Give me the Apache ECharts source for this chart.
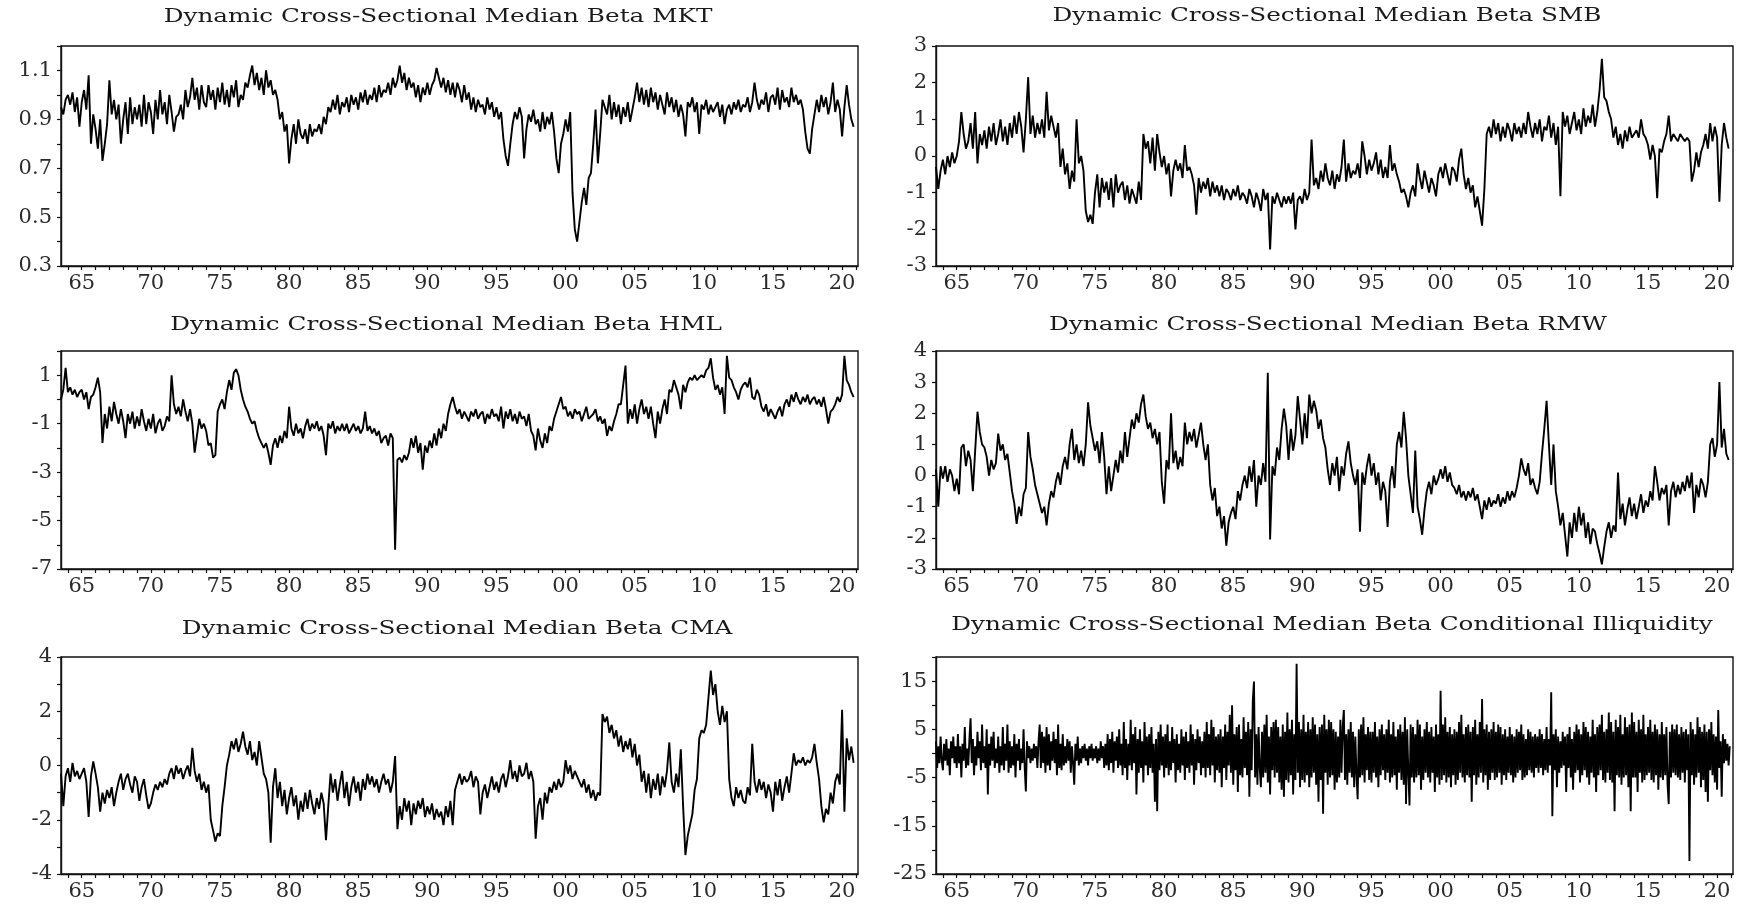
<!DOCTYPE html>
<html><head><meta charset="utf-8">
<script src="https://cdn.jsdelivr.net/npm/echarts@6/dist/echarts.min.js"></script>
<style>html,body{margin:0;padding:0;background:#fff}#c{width:1744px;height:904px}</style>
</head><body><div id="c"></div>
<script>
// first observation: July 1963
const START = 1963.5;
const xLabelYears = [1965,1970,1975,1980,1985,1990,1995,2000,2005,2010,2015,2020];
const xTickYears = [1964,1965,1966,1967,1968,1969,1970,1971,1972,1973,1974,1975,1976,1977,1978,1979,1980,1981,1982,1983,1984,1985,1986,1987,1988,1989,1990,1991,1992,1993,1994,1995,1996,1997,1998,1999,2000,2001,2002,2003,2004,2005,2006,2007,2008,2009,2010,2011,2012,2013,2014,2015,2016,2017,2018,2019,2020,2021];

const titles = ['Dynamic Cross-Sectional Median Beta MKT','Dynamic Cross-Sectional Median Beta SMB','Dynamic Cross-Sectional Median Beta HML','Dynamic Cross-Sectional Median Beta RMW','Dynamic Cross-Sectional Median Beta CMA','Dynamic Cross-Sectional Median Beta Conditional Illiquidity'];

const mktLabels = [0.3,0.5,0.7,0.9,1.1];
const mktTicks = [0.3,0.4,0.5,0.6,0.7,0.8,0.9,1.0,1.1,1.2];
const smbLabels = [-3,-2,-1,0,1,2,3];
const smbTicks = [-3,-2,-1,0,1,2,3];
const hmlLabels = [-7,-5,-3,-1,1];
const hmlTicks = [-7,-6,-5,-4,-3,-2,-1,0,1,2];
const rmwLabels = [-3,-2,-1,0,1,2,3,4];
const rmwTicks = [-3,-2,-1,0,1,2,3,4];
const cmaLabels = [-4,-2,0,2,4];
const cmaTicks = [-4,-3,-2,-1,0,1,2,3,4];
const illLabels = [-25,-15,-5,5,15];
const illTicks = [-25,-20,-15,-10,-5,0,5,10,15,20];

// six observations per year (Jul 1963 .. Nov 2020)
const mkt = [
0.95,0.92,0.98,
1.00,0.96,1.01,0.93,0.99,0.87,
0.97,1.02,0.94,1.08,0.80,0.92,
0.86,0.78,0.90,0.73,0.80,0.88,
1.06,0.92,0.98,0.90,0.96,0.80,
0.90,0.97,0.84,0.99,0.88,0.95,
0.90,0.96,0.87,1.00,0.88,0.97,
0.93,0.84,0.98,0.90,1.02,0.92,
0.97,0.88,1.00,0.93,0.85,0.91,
0.92,0.96,0.90,1.02,0.95,0.99,
1.07,0.98,1.03,0.94,1.04,0.97,
0.95,1.04,0.98,1.02,0.94,1.03,
0.97,1.05,0.96,1.02,0.95,1.04,
0.99,1.06,0.95,1.00,0.98,1.05,
1.03,1.08,1.12,1.04,1.09,1.02,
1.07,1.00,1.10,1.03,1.06,1.00,
1.02,0.98,0.90,0.93,0.85,0.88,
0.72,0.82,0.88,0.80,0.90,0.84,
0.82,0.86,0.80,0.88,0.83,0.86,
0.85,0.88,0.84,0.91,0.88,0.95,
0.93,0.98,0.94,1.00,0.92,0.97,
0.95,0.99,0.93,1.00,0.96,0.99,
0.94,1.01,0.97,1.02,0.96,1.00,
0.98,1.03,0.97,1.04,0.99,1.02,
1.01,1.05,1.00,1.07,1.03,1.06,
1.12,1.05,1.09,1.02,1.07,1.03,
1.05,0.99,1.04,0.97,1.03,1.00,
1.05,1.00,1.04,1.06,1.11,1.07,
1.03,1.07,1.01,1.06,1.00,1.05,
0.99,1.05,1.02,0.97,1.04,0.98,
1.01,0.94,0.99,0.93,0.98,0.95,
0.96,0.92,0.99,0.94,0.97,0.91,
0.95,0.90,0.93,0.82,0.75,0.71,
0.80,0.88,0.93,0.90,0.95,0.91,
0.74,0.86,0.92,0.89,0.94,0.88,
0.90,0.85,0.93,0.86,0.91,0.88,
0.93,0.85,0.74,0.68,0.80,0.84,
0.90,0.85,0.93,0.60,0.45,0.40,
0.48,0.56,0.62,0.55,0.66,0.68,
0.80,0.94,0.72,0.84,0.98,0.95,
0.92,1.00,0.90,0.97,0.91,0.96,
0.88,0.95,0.91,0.97,0.89,0.94,
0.99,1.05,0.97,1.03,0.96,1.02,
0.95,1.03,0.97,1.01,0.94,1.00,
0.96,0.92,1.01,0.95,0.99,0.93,
0.98,0.91,0.96,0.92,0.83,0.97,
0.95,0.99,0.93,0.97,0.84,0.96,
0.94,0.98,0.92,0.96,0.93,0.95,
0.97,0.91,0.96,0.88,0.94,0.96,
0.92,0.97,0.94,0.98,0.93,0.96,
0.95,0.99,0.93,0.97,1.05,0.98,
0.94,0.98,0.96,1.01,0.93,0.99,
1.00,0.96,1.03,0.94,1.02,0.97,
0.99,0.95,1.03,0.97,1.00,0.96,
0.98,0.94,0.85,0.78,0.76,0.86,
0.92,0.98,0.93,1.00,0.95,0.99,
0.92,0.97,1.05,0.93,0.98,0.94,
0.83,0.95,1.04,0.96,0.90,0.87];

const smb = [
-0.3,-0.9,-0.4,
-0.1,-0.5,0.0,-0.3,0.1,-0.2,
0.0,0.4,1.2,0.6,0.2,0.4,
0.9,0.2,1.2,-0.2,0.6,0.3,
0.7,0.2,0.8,0.4,0.9,0.3,
0.6,1.0,0.4,0.8,0.3,0.9,
0.5,1.1,0.6,1.2,0.8,0.1,
1.0,2.15,0.6,1.1,0.5,0.9,
0.6,1.0,0.5,1.75,0.7,1.1,
0.8,0.5,0.9,-0.3,0.2,-0.5,
-0.2,-0.9,-0.4,-0.7,1.0,-0.2,
0.0,-0.4,-1.5,-1.8,-1.6,-1.85,
-1.0,-0.5,-1.4,-0.6,-1.0,-0.7,
-1.2,-0.6,-1.4,-0.5,-1.0,-0.8,
-0.7,-1.2,-0.8,-1.3,-0.9,-1.1,
-1.3,-0.7,-1.2,0.6,0.2,0.4,
-0.2,0.5,-0.4,0.6,0.1,-0.3,
0.0,-0.5,-0.2,-1.1,-0.4,-0.1,
-0.4,-0.2,-0.6,0.3,-0.4,-0.3,
-0.5,-0.8,-1.6,-0.6,-1.0,-0.7,
-0.9,-0.6,-1.1,-0.7,-1.0,-0.8,
-1.1,-0.8,-1.2,-0.9,-1.0,-1.2,
-0.9,-1.1,-0.8,-1.2,-1.0,-1.1,
-1.3,-0.9,-1.1,-1.4,-1.0,-1.2,
-1.5,-0.9,-1.2,-1.0,-2.55,-1.1,
-1.3,-1.0,-1.2,-1.4,-1.1,-1.3,
-1.1,-1.3,-1.0,-2.0,-1.2,-1.1,
-1.3,-0.9,-1.2,-1.0,0.45,-0.8,
-0.6,-0.9,-0.4,-0.7,-0.2,-0.6,
-0.8,-0.4,-0.9,-0.5,-0.7,-0.3,
0.45,-0.7,-0.2,-0.6,-0.4,-0.5,
-0.2,-0.6,0.4,0.0,-0.5,-0.1,
-0.4,-0.2,0.1,-0.5,-0.1,-0.6,
-0.3,-0.6,0.3,-0.4,-0.2,-0.5,
-0.7,-1.0,-0.9,-1.1,-1.4,-1.0,
-0.8,-1.1,-0.2,-0.6,-0.9,-0.4,
-0.7,-1.0,-0.6,-0.8,-1.1,-0.5,
-0.3,-0.6,-0.2,-0.5,-0.8,-0.3,
-0.4,-0.7,-0.1,0.2,-0.5,-0.9,
-0.6,-1.0,-0.8,-1.4,-1.1,-1.5,
-1.9,-0.9,0.6,0.8,0.5,1.0,
0.6,0.9,0.4,0.8,0.5,0.9,
0.7,0.4,0.9,0.6,0.8,0.5,
0.9,0.6,1.2,0.8,0.5,0.9,
0.6,1.0,0.4,0.8,0.7,1.1,
0.5,0.9,0.3,0.8,-1.1,1.2,
0.8,1.1,0.6,0.9,1.2,0.7,
1.0,0.6,1.3,0.8,1.1,0.9,
1.4,0.8,1.2,1.8,2.65,1.6,
1.5,1.2,1.0,0.5,0.8,0.3,
0.6,0.2,0.7,0.4,0.8,0.5,
0.6,0.7,0.5,1.0,0.6,0.5,
0.3,-0.1,0.3,0.0,-1.15,0.2,
0.1,0.4,0.6,1.1,0.4,0.6,
0.5,0.4,0.6,0.5,0.4,0.5,
0.4,-0.7,-0.4,0.1,-0.3,0.1,
0.3,0.6,0.2,0.9,0.4,0.8,
0.5,-1.25,0.3,0.9,0.5,0.2];

const hml = [
0.0,0.4,1.3,
0.3,0.5,0.2,0.4,0.1,0.3,
0.4,0.0,0.3,-0.4,0.1,0.2,
0.5,0.9,0.3,-1.8,-0.6,-1.2,
-0.3,-0.9,-0.1,-0.6,-1.0,-0.4,
-0.9,-1.6,-0.6,-1.0,-0.5,-1.2,
-0.7,-1.1,-0.4,-0.9,-1.3,-0.8,
-1.2,-0.6,-1.4,-1.0,-0.8,-1.3,
-1.1,-0.7,-0.9,1.0,-0.2,-0.6,
-0.3,-0.7,0.0,-0.5,-0.9,-0.4,
-1.0,-2.2,-1.5,-0.8,-1.2,-1.0,
-1.3,-1.9,-1.8,-2.4,-2.3,-0.5,
-0.2,0.0,-0.4,0.3,0.8,0.4,
1.1,1.25,1.0,0.4,0.0,-0.3,
-0.5,-0.8,-1.0,-0.9,-1.3,-1.6,
-1.8,-2.0,-1.8,-2.2,-2.7,-1.9,
-1.6,-2.0,-1.5,-1.8,-1.3,-1.6,
-0.3,-1.2,-1.5,-1.0,-1.4,-1.2,
-1.6,-1.1,-0.8,-1.3,-1.0,-1.2,
-0.9,-1.3,-1.1,-1.5,-2.3,-1.0,
-1.2,-0.9,-1.4,-1.1,-1.3,-1.0,
-1.3,-1.0,-1.4,-1.2,-1.0,-1.3,
-1.1,-1.4,-1.2,-0.5,-1.3,-1.1,
-1.4,-1.2,-1.5,-1.3,-1.8,-1.6,
-1.5,-1.9,-1.4,-1.6,-6.2,-2.5,
-2.4,-2.6,-2.3,-2.5,-2.2,-1.6,
-2.0,-1.5,-2.2,-1.8,-2.9,-1.9,
-2.2,-1.7,-2.0,-1.4,-1.9,-1.2,
-1.6,-1.0,-1.3,-0.6,-0.2,0.1,
-0.3,-0.6,-0.4,-0.8,-0.5,-0.7,
-0.9,-0.5,-0.7,-0.4,-0.8,-0.6,
-0.5,-1.0,-0.6,-0.8,-0.4,-0.7,
-0.6,-0.9,-0.3,-1.2,-0.5,-0.8,
-0.4,-0.9,-0.6,-1.0,-0.5,-0.8,
-0.7,-1.1,-0.6,-1.3,-1.5,-2.1,
-1.2,-1.7,-2.0,-1.4,-1.8,-1.1,
-1.3,-0.8,-0.5,-0.2,0.1,-0.4,
-0.3,-0.7,-0.5,-0.8,-0.4,-0.6,
-0.5,-0.9,-0.6,-0.3,-0.8,-0.7,
-0.6,-0.4,-0.9,-0.7,-1.0,-0.8,
-1.5,-1.1,-1.3,-0.9,-0.6,-0.2,
-0.2,0.6,1.4,-1.0,-0.4,-0.8,
-0.2,-1.0,-0.4,0.0,-0.6,-0.3,
-0.8,-0.3,-1.0,-1.6,-0.5,-1.0,
-0.4,0.0,-0.6,0.4,0.3,0.8,
0.5,0.2,-0.4,0.6,0.3,0.7,
0.9,0.8,1.0,0.8,0.9,1.0,
0.9,1.2,1.3,1.7,0.9,0.4,
0.6,0.2,0.5,-0.6,1.8,0.9,
0.8,0.5,0.3,0.0,0.4,0.6,
0.7,0.5,0.9,0.1,0.0,0.4,
0.2,-0.3,-0.5,-0.2,-0.7,-0.4,
-0.6,-0.8,-0.5,-0.3,-0.7,-0.2,
0.0,-0.3,0.2,-0.1,0.3,0.0,
-0.2,0.1,-0.1,0.2,-0.2,0.0,
0.1,-0.2,0.0,-0.3,0.1,-0.4,
-1.0,-0.5,-0.4,-0.2,0.1,-0.1,
0.2,1.8,0.8,0.6,0.3,0.1];

const rmw = [
0.2,-1.0,0.3,
-0.1,0.3,-0.2,0.2,0.0,-0.5,
-0.1,-0.6,0.9,1.0,0.3,0.8,
0.5,-0.5,0.8,2.05,1.4,1.0,
0.9,0.6,0.0,0.5,0.2,0.4,
1.35,0.8,1.0,0.5,0.7,0.1,
-0.5,-0.9,-1.55,-1.0,-1.3,-0.6,
-0.4,1.4,0.6,0.2,-0.3,-0.6,
-0.9,-1.2,-1.0,-1.6,-0.9,-0.5,
-0.7,-0.2,0.1,-0.3,0.3,0.6,
0.2,1.0,1.5,0.5,1.0,0.4,
0.8,0.3,1.0,2.35,1.6,1.2,
0.8,1.1,0.4,1.4,0.6,-0.6,
0.3,-0.5,0.0,0.5,0.1,0.8,
0.4,1.4,0.6,1.2,1.8,1.5,
2.0,1.7,2.3,2.6,1.9,1.5,
1.7,1.2,1.5,1.0,1.4,-0.2,
-0.9,0.5,0.2,2.0,0.4,0.8,
0.2,0.6,0.3,1.7,1.0,1.4,
1.1,1.5,0.9,1.3,1.7,1.0,
0.5,1.0,-0.3,-0.8,-0.4,-1.3,
-1.0,-1.7,-1.3,-2.25,-1.5,-1.2,
-1.0,-1.4,-0.5,-0.8,-0.3,0.0,
-0.4,0.3,-0.2,0.5,-1.0,0.0,
-0.3,0.4,-0.2,3.3,-2.05,0.3,
0.0,0.9,0.5,1.5,2.15,1.6,
0.5,1.5,0.8,1.3,2.55,1.8,
1.0,2.0,1.2,2.6,2.0,2.4,
2.1,1.5,1.8,1.2,0.9,0.2,
-0.3,0.4,0.0,0.6,-0.5,0.3,
0.0,0.7,1.1,0.4,0.0,-0.3,
0.2,-1.8,0.1,-0.3,0.3,0.7,
0.0,0.4,-0.3,0.1,-0.8,-0.2,
-0.5,-1.65,-0.2,0.3,-0.4,1.0,
1.4,0.9,2.05,1.2,0.0,-0.6,
-1.2,0.8,-1.0,-1.4,-1.9,-1.1,
-0.5,-0.2,-0.6,0.0,-0.3,-0.1,
0.2,-0.1,0.3,-0.2,0.1,-0.3,
-0.4,-0.6,-0.3,-0.7,-0.5,-0.8,
-0.5,-0.7,-0.4,-0.8,-0.6,-1.0,
-1.4,-0.8,-1.1,-0.7,-1.0,-0.8,
-0.9,-0.6,-1.0,-0.7,-0.9,-0.5,
-0.8,-0.5,-0.7,-0.4,0.0,0.55,
0.2,0.0,0.4,-0.3,-0.1,-0.4,
-0.6,-0.2,0.7,1.5,2.4,1.0,
-0.3,1.0,-0.5,-1.0,-1.6,-1.2,
-1.9,-2.6,-1.5,-2.0,-1.2,-1.8,
-1.0,-1.6,-1.2,-2.0,-1.5,-2.2,
-1.7,-1.8,-2.2,-2.5,-2.85,-2.3,
-1.8,-1.5,-2.0,-1.6,-1.8,0.1,
-1.4,-0.9,-1.6,-1.1,-0.7,-1.3,
-0.9,-1.4,-1.0,-0.6,-1.2,-0.8,
-1.0,-0.5,-0.8,0.3,-0.2,-0.8,
-0.4,-0.6,-0.3,-1.6,-0.5,-0.2,
-0.7,-0.3,-0.6,-0.2,-0.5,0.0,
-0.4,0.1,-1.2,-0.3,-0.7,-0.1,
-0.3,-0.7,-0.2,1.0,1.2,0.6,
1.0,3.0,0.9,1.5,0.7,0.5];

const cma = [
-0.3,-1.5,-0.4,
-0.1,-0.6,0.1,-0.4,-0.2,-0.5,
-0.3,-0.1,-0.6,-1.9,-0.4,0.15,
-0.3,-0.8,-1.7,-1.0,-1.4,-0.9,
-1.2,-0.8,-1.5,-1.0,-0.6,-0.3,
-0.9,-0.5,-0.3,-0.7,-1.0,-0.4,
-0.6,-1.3,-0.8,-0.5,-1.1,-1.6,
-1.4,-1.0,-0.7,-0.9,-0.6,-0.8,
-0.5,-0.7,-0.3,-0.1,-0.5,0.0,
-0.3,-0.1,-0.5,-0.2,0.0,-0.4,
0.65,-0.2,-0.6,-0.3,-0.9,-0.6,
-1.0,-0.7,-2.0,-2.4,-2.8,-2.5,
-2.6,-1.5,-0.8,0.0,0.4,0.9,
0.6,1.0,0.5,0.8,1.25,0.7,
0.4,0.9,0.2,0.5,0.0,0.9,
0.3,-0.3,-0.5,-1.0,-2.85,-0.8,
-0.1,-1.2,-0.6,-1.5,-0.9,-1.8,
-1.2,-0.8,-1.5,-1.1,-2.0,-1.3,
-1.7,-1.0,-1.6,-0.9,-1.4,-1.8,
-1.2,-1.6,-1.0,-1.4,-2.75,-1.5,
-0.3,-1.0,-0.5,-1.3,-0.7,-0.2,
-1.2,-0.6,-1.5,-0.8,-0.4,-1.0,
-0.6,-1.3,-0.5,-0.9,-0.3,-0.7,
-0.4,-0.8,-0.5,-1.0,-0.6,-0.3,
-0.7,-0.5,-1.0,-0.6,0.35,-2.35,
-1.5,-2.0,-1.2,-1.7,-1.3,-2.2,
-1.4,-1.8,-1.3,-1.6,-1.2,-1.9,
-1.5,-1.8,-1.4,-2.0,-1.6,-1.9,
-1.7,-2.2,-1.5,-1.9,-1.3,-2.2,
-0.9,-0.6,-0.3,-0.7,-0.4,-0.6,
-0.5,-0.2,-0.8,-0.4,-0.6,-1.8,
-1.0,-0.7,-1.2,-0.8,-0.4,-0.9,
-0.6,-1.0,-0.5,-0.3,-0.8,-0.4,
0.2,-0.5,-0.2,-0.6,0.0,-0.4,
-0.3,0.1,-0.5,-0.2,-0.6,-2.7,
-1.5,-1.2,-2.0,-1.0,-1.4,-0.8,
-1.0,-0.6,-0.9,-0.5,-0.8,-0.6,
0.2,-0.3,0.0,-0.5,-0.2,-0.4,
-0.6,-0.8,-0.5,-1.0,-0.7,-1.2,
-0.9,-1.3,-1.0,-1.1,1.9,1.6,
1.8,1.2,1.5,1.0,1.3,0.7,
1.1,0.5,0.9,0.6,1.0,0.3,
0.8,0.0,0.4,-0.6,-0.2,-1.0,
-0.3,-1.2,-0.5,-0.9,-0.3,-1.1,
-0.4,-0.8,-0.2,0.85,-0.6,-1.0,
-0.3,-0.8,0.6,-1.5,-3.3,-2.6,
-2.2,-1.8,-0.9,-0.5,1.0,1.3,
1.2,1.5,2.5,3.5,2.6,3.0,
2.0,1.5,2.2,1.6,2.0,-0.5,
-1.2,-1.5,-0.8,-1.2,-0.9,-1.3,
-1.4,-0.8,-1.1,0.8,-0.6,-1.0,
-0.5,-0.9,-0.6,-1.2,-0.7,-1.0,
-1.7,-0.6,-1.1,-0.5,-1.3,-0.8,
-0.4,-1.0,-0.3,0.45,0.0,0.2,
0.1,0.3,0.0,0.2,0.1,0.3,
0.8,0.1,-0.5,-1.5,-2.1,-1.6,
-1.8,-1.0,-1.4,-0.6,-0.3,-0.7,
2.05,-1.7,1.0,0.2,0.7,0.1];

// twelve observations per year (Jul 1963 .. Dec 2020)
const illiq = [
2.5,-3.0,1.5,-2.0,3.5,-1.5,
-3.5,2.0,-1.5,3.0,-2.5,1.0,-4.5,2.5,-1.0,3.5,-2.0,1.5,
-3.0,4.0,-2.0,1.5,-5.0,2.0,-1.5,5.5,-3.0,1.0,-2.5,3.0,
7.3,-2.0,3.0,-4.5,1.5,-2.5,4.5,-1.0,2.5,-3.5,6.0,-2.0,
1.5,-3.0,5.0,-8.5,2.0,-2.5,3.5,-1.5,4.5,-3.0,1.0,-2.0,
3.5,-4.0,1.5,-2.5,5.5,-3.5,2.0,-1.5,6.0,-4.0,2.5,-3.0,
1.5,-2.5,4.0,-5.0,2.0,-1.5,3.0,-3.5,1.0,-2.0,5.0,-3.0,
-7.9,2.5,-1.0,1.5,-2.0,1.0,-1.5,2.0,-1.0,1.5,-3.0,2.5,
6.0,-3.0,4.5,-2.0,3.5,-4.0,5.5,-2.5,4.0,-3.5,2.5,-1.5,
4.5,-2.0,3.0,-4.5,6.0,-3.0,2.0,-3.5,4.0,-2.5,1.5,-2.0,
3.0,-1.5,2.5,-4.0,1.5,-2.0,-6.5,2.0,-1.5,3.5,-2.5,1.0,
-2.0,1.5,-1.0,2.0,-1.5,1.0,-2.5,1.5,-1.0,2.0,-1.5,1.0,
-1.0,1.5,-2.0,1.0,-1.5,2.5,-1.0,1.5,-3.0,2.0,-2.5,4.0,
-3.5,3.0,-2.0,4.5,-4.0,2.5,-1.5,3.5,-3.0,5.0,-2.5,2.0,
-4.5,6.5,-3.0,3.0,-5.5,2.0,-2.5,7.0,-3.5,4.0,-2.0,5.5,
-8.5,3.0,-4.0,5.0,-3.0,2.5,-6.0,6.5,-2.5,3.5,-4.5,4.0,
-3.0,5.5,-4.0,2.0,-10.0,3.0,-12.0,4.5,-3.5,6.0,-2.5,3.5,
-5.0,4.0,-3.0,6.0,-4.5,2.5,-3.5,5.5,-2.0,3.0,-6.0,4.0,
-3.5,2.0,-4.0,5.0,-2.5,3.5,-5.5,4.5,-3.0,2.5,-4.0,6.0,
-2.5,4.0,-6.5,3.0,-3.5,5.0,-2.0,3.5,-4.5,2.5,-3.0,4.5,
-5.0,6.5,-3.0,4.0,-4.5,7.0,-2.5,5.5,-6.0,3.5,-3.5,4.0,
-4.0,5.0,-7.0,3.5,-3.0,6.0,-5.5,4.5,-2.5,8.0,-4.0,10.0,
-6.5,4.0,-3.5,5.5,-8.0,6.0,-4.5,3.0,-5.0,7.5,-3.0,4.5,
-4.5,6.5,-9.0,5.0,-3.5,11.0,14.9,-5.0,4.0,-6.5,5.5,-3.0,
-7.0,4.5,-5.0,6.0,-4.0,8.0,-6.0,3.5,-8.5,5.5,-3.5,6.5,
-5.0,7.0,-4.0,5.5,-6.0,3.5,-7.5,6.0,-9.0,4.5,-5.5,8.5,
-6.0,5.0,-4.5,7.0,-8.5,4.0,-5.5,18.6,-4.0,6.5,-7.0,5.0,
-5.5,8.0,-6.0,4.5,-4.5,6.5,-7.0,5.0,-5.0,7.5,-4.0,6.0,
-6.5,4.0,-10.0,5.5,-5.5,6.0,-12.5,8.0,-4.0,5.0,-6.5,7.0,
-5.0,6.5,-4.5,5.0,-7.5,4.5,-6.0,3.5,-5.0,7.0,-4.0,5.5,
9.0,-5.5,4.0,-6.5,5.0,-4.0,6.5,-5.0,4.5,-7.0,3.5,-4.5,
-9.5,5.0,-5.0,6.0,-4.5,7.5,-6.0,4.0,-3.5,5.5,-5.5,4.5,
-6.0,4.5,-4.0,6.5,-5.0,3.5,-7.0,5.0,-4.5,6.0,-3.5,4.0,
-5.5,5.0,-4.0,7.0,-6.0,4.0,-5.0,6.5,-4.5,3.5,-7.5,5.0,
-4.0,6.0,-5.5,4.5,-6.5,7.5,-10.5,5.0,-4.0,-10.8,6.0,-5.0,
5.5,-6.0,4.0,-5.0,7.0,-4.5,6.0,-7.5,3.5,-5.5,5.0,-4.0,
6.5,-5.0,4.5,-6.0,5.5,-4.0,3.5,-8.0,6.0,-5.0,4.0,-6.5,
13.0,-5.5,6.0,-4.5,7.5,-6.0,4.5,-5.0,5.5,-7.0,4.0,-4.5,
5.0,-6.5,4.5,-5.5,6.5,-4.0,8.0,-5.0,4.0,-6.0,5.5,-4.5,
6.0,-5.0,4.5,-10.0,5.5,-4.5,7.0,-6.5,4.0,-5.0,6.5,-4.0,
11.3,-6.0,5.0,-4.5,6.0,-7.5,4.5,-5.5,5.0,-4.0,6.5,-5.5,
4.5,-5.0,6.0,-4.0,5.5,-6.5,4.0,-4.5,5.0,-5.5,3.5,-4.0,
5.5,-4.5,4.0,-6.0,3.5,-5.0,5.0,-4.0,4.5,-3.5,6.0,-5.5,
4.0,-5.0,3.0,-4.5,5.0,-3.5,4.5,-4.0,3.5,-5.0,4.0,-3.0,
3.5,-4.0,5.0,-3.0,4.0,-4.5,3.0,-3.5,5.5,-4.0,3.0,-2.5,
12.7,-13.0,4.0,-3.5,5.0,-7.0,3.5,-4.0,2.5,-3.0,4.5,-2.5,
3.5,-8.0,4.0,-3.0,5.5,-5.0,3.0,-7.5,4.5,-4.0,6.0,-3.5,
5.0,-6.0,4.0,-4.5,6.5,-3.5,5.5,-5.0,4.5,-6.5,3.5,-4.0,
7.0,-5.0,4.0,-8.0,5.5,-4.5,6.0,-3.5,8.0,-5.5,4.5,-6.0,
5.0,-4.0,8.5,-5.5,6.5,-6.0,4.5,-12.0,7.0,-4.5,5.5,-5.0,
8.0,-6.5,4.0,-5.0,7.5,-4.5,5.5,-7.0,6.0,-12.0,8.5,-5.0,
6.5,-5.0,4.5,-8.0,7.0,-4.0,5.0,-6.0,8.0,-5.5,4.0,-4.5,
5.5,-4.0,7.0,-5.5,4.5,-6.0,6.0,-4.5,5.0,-7.5,4.0,-5.0,
6.5,-5.5,4.0,-4.5,5.5,-6.5,-10.5,4.5,-5.0,6.0,-4.0,5.0,
-4.5,6.0,-5.0,4.0,-5.5,5.5,-4.0,4.5,-6.0,5.0,-3.5,4.0,
-22.3,6.5,-4.5,5.0,-6.5,4.0,-5.0,7.5,-4.0,5.5,-7.0,4.5,
-5.5,6.0,-8.0,4.5,-10.0,5.0,-3.5,6.5,-4.5,4.0,-6.0,3.5,
-7.5,9.0,-3.0,2.5,-9.0,4.0,-2.0,3.0,-1.5,2.0,-2.5,1.5];

const panels = [
  {name: titles[0], data: mkt, perYear: 6, min: 0.3, max: 1.2, labels: mktLabels, ticks: mktTicks, dec: 1},
  {name: titles[1], data: smb, perYear: 6, min: -3, max: 3, labels: smbLabels, ticks: smbTicks, dec: 0},
  {name: titles[2], data: hml, perYear: 6, min: -7, max: 2, labels: hmlLabels, ticks: hmlTicks, dec: 0},
  {name: titles[3], data: rmw, perYear: 6, min: -3, max: 4, labels: rmwLabels, ticks: rmwTicks, dec: 0},
  {name: titles[4], data: cma, perYear: 6, min: -4, max: 4, labels: cmaLabels, ticks: cmaTicks, dec: 0},
  {name: titles[5], data: illiq, perYear: 12, min: -25, max: 20, labels: illLabels, ticks: illTicks, dec: 0}
];

// layout (pixels)
const gridLeft = [61, 936];
const gridTop = [46, 351, 657];
const gridH = [220, 218, 217];
const gridW = 797;
const titlePos = [[438,17],[1327,16],[446,325],[1328,325],[457,629],[1332,625]];

const FONT = '"DejaVu Serif", serif';
const grids = [], xAxes = [], yAxes = [], series = [], graphics = [];
panels.forEach((p, i) => {
  const col = i % 2, row = Math.floor(i / 2);
  grids.push({left: gridLeft[col], top: gridTop[row], width: gridW, height: gridH[row],
    containLabel: false, outerBoundsMode: 'none',
    show: true, borderColor: '#111', borderWidth: 1.4, backgroundColor: 'transparent'});
  xAxes.push({type: 'value', gridIndex: i, min: 1963.5, max: 2021.15,
    axisLine: {show: true, onZero: false, lineStyle: {color: '#111', width: 1.4}},
    axisTick: {show: true, customValues: xTickYears, length: 4, lineStyle: {color: '#111', width: 1.2}},
    axisLabel: {customValues: xLabelYears, margin: 7, fontFamily: FONT, fontSize: 21, color: '#2a2a2a',
      formatter: v => String(Math.round(v) % 100).padStart(2, '0')},
    splitLine: {show: false}});
  yAxes.push({type: 'value', gridIndex: i, min: p.min, max: p.max,
    axisLine: {show: true, onZero: false, lineStyle: {color: '#111', width: 1.4}},
    axisTick: {show: true, customValues: p.ticks, length: 4, lineStyle: {color: '#111', width: 1.2}},
    axisLabel: {customValues: p.labels, margin: 9, fontFamily: FONT, fontSize: 21, color: '#2a2a2a',
      formatter: v => p.dec ? v.toFixed(p.dec) : String(Math.round(v))},
    splitLine: {show: false}});
  series.push({type: 'line', xAxisIndex: i, yAxisIndex: i, showSymbol: false, symbol: 'none',
    animation: false, lineStyle: {color: '#000', width: 1.9}, clip: true,
    data: p.data.map((v, k) => [START + k / p.perYear, v])});
  graphics.push({type: 'text', x: titlePos[i][0], y: titlePos[i][1], scaleX: 1.3,
    style: {text: p.name, font: '19px ' + FONT, fill: '#1a1a1a', textAlign: 'center', textVerticalAlign: 'middle'}});
});

const chart = echarts.init(document.getElementById('c'), null, {renderer: 'canvas'});
chart.setOption({animation: false, backgroundColor: '#fff', grid: grids, xAxis: xAxes, yAxis: yAxes, series: series, graphic: graphics});
</script>
</body></html>
